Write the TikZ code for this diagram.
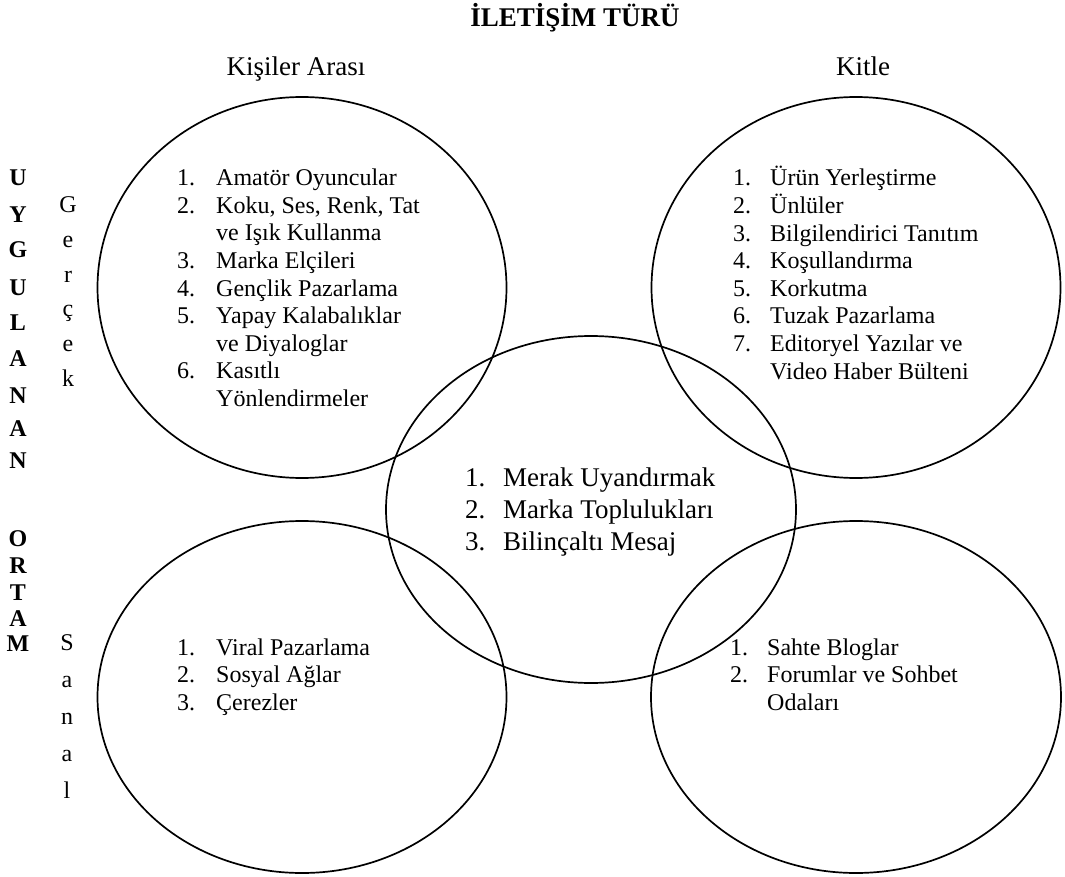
\documentclass[tikz,border=0pt]{standalone}
\usepackage{fontspec}
\setmainfont{Liberation Serif}
\usetikzlibrary{shapes.geometric}

% item lists set as two-column tables: number, then text
\newcommand{\itemlist}[2]{\begin{tabular}[t]{@{}p{#1}@{}l@{}}#2\end{tabular}}

\begin{document}
\begin{tikzpicture}[x=1pt,y=-1pt,
  vennset/.style={draw, ellipse, line width=1.7pt, inner sep=0pt},
  bodytext/.style={anchor=base west, inner sep=0pt, font=\fontsize{24}{27.6}\selectfont},
  bigtext/.style={anchor=base west, inner sep=0pt, font=\fontsize{27}{31.7}\selectfont},
  headtext/.style={anchor=base, inner sep=0pt, font=\fontsize{27}{31}\selectfont},
  sideletter/.style={anchor=base, inner sep=0pt, font=\fontsize{24}{27.6}\selectfont\bfseries},
  thinletter/.style={anchor=base, inner sep=0pt, font=\fontsize{24}{27.6}\selectfont}]
\useasboundingbox (0,0) rectangle (1065,877);

% headings
\node[headtext, font=\fontsize{27}{31}\selectfont\bfseries] (title) at (575,27) {İLETİŞİM TÜRÜ};
\node[headtext] (kisiler) at (296,76) {Kişiler Arası};
\node[headtext] (kitle) at (863,76) {Kitle};

% the five sets
\node[vennset, minimum width=409pt, minimum height=381pt] (tl) at (302,287.5) {};
\node[vennset, minimum width=409pt, minimum height=381pt] (tr) at (856,287.5) {};
\node[vennset, minimum width=410pt, minimum height=347pt] (mid) at (591,509.5) {};
\node[vennset, minimum width=409pt, minimum height=352pt] (bl) at (302,697) {};
\node[vennset, minimum width=410pt, minimum height=352pt] (br) at (856,697) {};

% vertical side labels
\foreach \ch/\yy [count=\i] in {U/186,Y/223,G/258,U/295,L/330,A/366,N/403,A/436,N/468,O/546,R/573,T/600,A/626,M/651}
  \node[sideletter] (ortam\i) at (18,\yy) {\ch};
\foreach \ch/\yy [count=\i] in {G/213,e/247.6,r/282.2,ç/316.8,e/351.4,k/386}
  \node[thinletter] (gercek\i) at (68,\yy) {\ch};
\foreach \ch/\yy [count=\i] in {S/650,a/687,n/724,a/761,l/798}
  \node[thinletter] (sanal\i) at (67,\yy) {\ch};

% contents of the sets
\node[bodytext] (tllist) at (177,185.7) {\itemlist{39pt}{%
  1. & Amatör Oyuncular\\
  2. & Koku, Ses, Renk, Tat\\
     & ve Işık Kullanma\\
  3. & Marka Elçileri\\
  4. & Gençlik Pazarlama\\
  5. & Yapay Kalabalıklar\\
     & ve Diyaloglar\\
  6. & Kasıtlı\\
     & Yönlendirmeler}};

\node[bodytext] (trlist) at (733,185.7) {\itemlist{37pt}{%
  1. & Ürün Yerleştirme\\
  2. & Ünlüler\\
  3. & Bilgilendirici Tanıtım\\
  4. & Koşullandırma\\
  5. & Korkutma\\
  6. & Tuzak Pazarlama\\
  7. & Editoryel Yazılar ve\\
     & Video Haber Bülteni}};

\node[bigtext] (midlist) at (465,486.7) {\itemlist{38pt}{%
  1. & Merak Uyandırmak\\
  2. & Marka Toplulukları\\
  3. & Bilinçaltı Mesaj}};

\node[bodytext] (bllist) at (177,655) {\itemlist{39pt}{%
  1. & Viral Pazarlama\\
  2. & Sosyal Ağlar\\
  3. & Çerezler}};

\node[bodytext] (brlist) at (730,655) {\itemlist{37pt}{%
  1. & Sahte Bloglar\\
  2. & Forumlar ve Sohbet\\
     & Odaları}};
\end{tikzpicture}
\end{document}
